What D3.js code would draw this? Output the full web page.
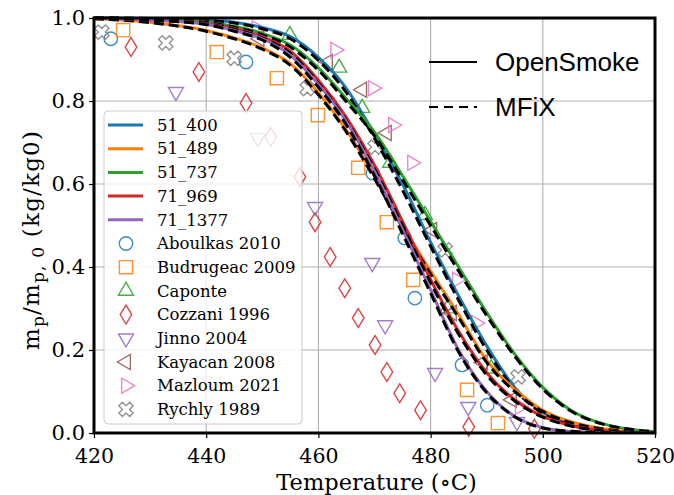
<!DOCTYPE html>
<html>
<head>
<meta charset="utf-8">
<script src="https://cdn.jsdelivr.net/npm/d3@7"></script>
<style>
  html, body { margin: 0; padding: 0; background: #fff; }
  svg { display: block; }
  .tick text { font-family: "DejaVu Serif", serif; }
</style>
</head>
<body>
<svg id="chart" width="674" height="495"></svg>
<script>
// Temperature grid shared by all simulated curves (°C)
const temps = [420, 430, 440, 445, 450, 455, 460, 465, 470, 475, 480, 485, 490, 495, 500, 505, 510, 515, 520];

// OpenSmoke mass fraction curves
const os_51_400  = [1.0, 0.999, 0.995, 0.99, 0.977, 0.955, 0.905, 0.83, 0.72, 0.60, 0.46, 0.33, 0.21, 0.11, 0.05, 0.02, 0.007, 0.002, 0.0];
const os_51_489  = [0.998, 0.99, 0.97, 0.952, 0.928, 0.89, 0.82, 0.73, 0.62, 0.50, 0.39, 0.285, 0.175, 0.105, 0.055, 0.027, 0.012, 0.004, 0.001];
const os_51_737  = [1.0, 0.998, 0.99, 0.98, 0.963, 0.935, 0.88, 0.805, 0.725, 0.62, 0.51, 0.40, 0.29, 0.19, 0.11, 0.055, 0.025, 0.01, 0.003];
const os_71_969  = [1.0, 0.996, 0.987, 0.975, 0.955, 0.92, 0.85, 0.76, 0.645, 0.51, 0.37, 0.245, 0.145, 0.08, 0.04, 0.018, 0.007, 0.002, 0.0];
const os_71_1377 = [1.0, 0.995, 0.985, 0.97, 0.95, 0.91, 0.84, 0.75, 0.63, 0.49, 0.345, 0.20, 0.10, 0.04, 0.013, 0.004, 0.001, 0.0, 0.0];

// MFiX mass fraction curves
const mf_51_400  = [1.0, 0.999, 0.994, 0.988, 0.974, 0.95, 0.898, 0.82, 0.71, 0.585, 0.45, 0.32, 0.20, 0.105, 0.047, 0.019, 0.006, 0.002, 0.0];
const mf_51_489  = [0.998, 0.989, 0.968, 0.95, 0.925, 0.886, 0.815, 0.725, 0.613, 0.495, 0.383, 0.278, 0.17, 0.10, 0.052, 0.025, 0.011, 0.004, 0.001];
const mf_51_737  = [1.0, 0.998, 0.989, 0.978, 0.96, 0.93, 0.874, 0.798, 0.716, 0.61, 0.50, 0.39, 0.283, 0.185, 0.106, 0.053, 0.024, 0.01, 0.003];
const mf_71_969  = [1.0, 0.996, 0.986, 0.973, 0.952, 0.915, 0.843, 0.752, 0.636, 0.50, 0.362, 0.238, 0.14, 0.077, 0.038, 0.017, 0.006, 0.002, 0.0];
const mf_71_1377 = [1.0, 0.995, 0.984, 0.968, 0.947, 0.905, 0.833, 0.742, 0.62, 0.48, 0.337, 0.195, 0.097, 0.039, 0.012, 0.004, 0.001, 0.0, 0.0];

const caseNames  = ["51_400", "51_489", "51_737", "71_969", "71_1377"];
const caseColors = ["#1f77b4", "#ff7f0e", "#2ca02c", "#d62728", "#9467bd"];

// Experimental data: temperature (°C) and normalized mass
const aboulkasT = [423.0, 447.1, 469.7, 475.4, 477.2, 485.6, 490.1];
const aboulkasM = [0.95, 0.894, 0.626, 0.47, 0.325, 0.164, 0.067];
const budrugeacT = [425.2, 441.9, 452.6, 459.9, 467.1, 472.2, 476.9, 486.5, 492.0];
const budrugeacM = [0.971, 0.918, 0.855, 0.766, 0.639, 0.508, 0.369, 0.104, 0.024];
const caponteT = [454.9, 463.7, 467.8, 472.8, 479.0, 483.0, 490.8];
const caponteM = [0.959, 0.88, 0.783, 0.651, 0.525, 0.30, 0.155];
const cozzaniT = [426.6, 438.7, 447.1, 451.5, 456.7, 459.4, 462.1, 464.7, 467.1, 470.1, 472.2, 474.5, 478.2, 486.8, 498.5];
const cozzaniM = [0.93, 0.87, 0.795, 0.713, 0.617, 0.508, 0.424, 0.349, 0.277, 0.212, 0.147, 0.096, 0.055, 0.015, 0.01];
const jinnoT = [434.6, 449.2, 459.4, 469.6, 471.9, 480.8, 486.7, 495.4];
const jinnoM = [0.822, 0.711, 0.545, 0.41, 0.26, 0.145, 0.063, 0.027];
const kayacanT = [449.5, 461.7, 467.8, 472.2, 480.3, 483.8, 489.3, 494.5];
const kayacanM = [0.95, 0.894, 0.827, 0.723, 0.489, 0.289, 0.17, 0.08];
const mazloumT = [449.0, 463.0, 469.7, 473.3, 476.7, 484.7, 488.1, 495.9];
const mazloumM = [0.975, 0.923, 0.831, 0.742, 0.651, 0.369, 0.265, 0.063];
const rychlyT = [421.4, 432.8, 445.0, 458.0, 470.1, 482.6, 495.6];
const rychlyM = [0.966, 0.94, 0.903, 0.83, 0.689, 0.441, 0.135];

const xTicks = [420, 440, 460, 480, 500, 520];
const yTicks = [0.0, 0.2, 0.4, 0.6, 0.8, 1.0];

// ---- layout ----
const svg = d3.select("#chart");
const L = 94, R = 655, T = 18, B = 433;
const x = d3.scaleLinear().domain([420, 520]).range([L, R]);
const y = d3.scaleLinear().domain([0, 1]).range([B, T]);

// marker shapes (outlined, unfilled)
function markerPath(kind) {
  const p = d3.path();
  const poly = pts => { pts.forEach((q, i) => i ? p.lineTo(q[0], q[1]) : p.moveTo(q[0], q[1])); p.closePath(); };
  if (kind === "o") { p.arc(0, 0, 6.7, 0, 2 * Math.PI); }
  else if (kind === "s") { const h = 6.6; poly([[-h,-h],[h,-h],[h,h],[-h,h]]); }
  else if (kind === "^") { const r = 8.7; poly([[0,-r],[r*0.866,r*0.5],[-r*0.866,r*0.5]]); }
  else if (kind === "v") { const r = 8.7; poly([[0,r],[r*0.866,-r*0.5],[-r*0.866,-r*0.5]]); }
  else if (kind === "<") { const r = 8.7; poly([[-r,0],[r*0.5,-r*0.866],[r*0.5,r*0.866]]); }
  else if (kind === ">") { const r = 8.7; poly([[r,0],[-r*0.5,-r*0.866],[-r*0.5,r*0.866]]); }
  else if (kind === "d") { poly([[0,-9.4],[5.8,0],[0,9.4],[-5.8,0]]); }
  else if (kind === "X") {
    const a = 7.6, w = 2.5;
    const base = [[-w,-a],[w,-a],[w,-w],[a,-w],[a,w],[w,w],[w,a],[-w,a],[-w,w],[-a,w],[-a,-w],[-w,-w]];
    const c = Math.SQRT1_2;
    poly(base.map(([u, v]) => [c*(u - v), c*(u + v)]));
  }
  return p.toString();
}

const datasets = [
  { name: "Aboulkas 2010",  t: aboulkasT,  m: aboulkasM,  kind: "o", color: "#1f77b4" },
  { name: "Budrugeac 2009", t: budrugeacT, m: budrugeacM, kind: "s", color: "#ff7f0e" },
  { name: "Caponte",        t: caponteT,   m: caponteM,   kind: "^", color: "#2ca02c" },
  { name: "Cozzani 1996",   t: cozzaniT,   m: cozzaniM,   kind: "d", color: "#d62728" },
  { name: "Jinno 2004",     t: jinnoT,     m: jinnoM,     kind: "v", color: "#9467bd" },
  { name: "Kayacan 2008",   t: kayacanT,   m: kayacanM,   kind: "<", color: "#8c564b" },
  { name: "Mazloum 2021",   t: mazloumT,   m: mazloumM,   kind: ">", color: "#e377c2" },
  { name: "Rychly 1989",    t: rychlyT,    m: rychlyM,    kind: "X", color: "#7f7f7f" }
];

const osCurves = [os_51_400, os_51_489, os_51_737, os_71_969, os_71_1377];
const mfCurves = [mf_51_400, mf_51_489, mf_51_737, mf_71_969, mf_71_1377];

// grid
const grid = svg.append("g").attr("stroke", "#b0b0b0").attr("stroke-width", 1.1);
xTicks.forEach(t => grid.append("line").attr("x1", x(t)).attr("x2", x(t)).attr("y1", T).attr("y2", B));
yTicks.forEach(t => grid.append("line").attr("x1", L).attr("x2", R).attr("y1", y(t)).attr("y2", y(t)));

svg.append("defs").append("clipPath").attr("id", "plotclip")
  .append("rect").attr("x", L).attr("y", T - 10).attr("width", R - L).attr("height", B - T + 10);

// experimental markers
const pts = svg.append("g");
datasets.forEach(ds => {
  pts.append("g").selectAll("path").data(ds.t.map((t, i) => [t, ds.m[i]])).join("path")
    .attr("d", markerPath(ds.kind))
    .attr("transform", d => `translate(${x(d[0])},${y(d[1])})`)
    .attr("fill", "none").attr("stroke", ds.color).attr("stroke-width", 1.4).attr("opacity", 0.85);
});

// model curves: coloured solid (OpenSmoke) with black dashed (MFiX) on top
const line = d3.line().x((d, i) => x(temps[i])).y(d => y(d)).curve(d3.curveMonotoneX);
const curves = svg.append("g").attr("clip-path", "url(#plotclip)");
osCurves.forEach((c, k) => {
  curves.append("path").attr("d", line(c)).attr("fill", "none")
    .attr("stroke", caseColors[k]).attr("stroke-width", 3);
  curves.append("path").attr("d", line(mfCurves[k])).attr("fill", "none")
    .attr("stroke", "#000").attr("stroke-width", 3).attr("stroke-dasharray", "10,5");
});

// axes
const xAxis = svg.append("g").attr("transform", `translate(0,${B})`)
  .call(d3.axisBottom(x).tickValues(xTicks).tickFormat(d3.format("d")).tickSize(5).tickPadding(10));
const yAxis = svg.append("g").attr("transform", `translate(${L},0)`)
  .call(d3.axisLeft(y).tickValues(yTicks).tickFormat(d3.format(".1f")).tickSize(5).tickPadding(4));
[xAxis, yAxis].forEach(a => {
  a.select(".domain").remove();
  a.selectAll(".tick line").attr("stroke", "#000").attr("stroke-width", 1.2);
  a.selectAll(".tick text").attr("font-size", 21).attr("fill", "#000");
});
xAxis.selectAll(".tick text").attr("dy", "0.72em").attr("font-size", 20.5);

// frame
svg.append("rect").attr("x", L).attr("y", T).attr("width", R - L).attr("height", B - T)
  .attr("fill", "none").attr("stroke", "#000").attr("stroke-width", 3);

// axis titles
svg.append("text").attr("x", (L + R) / 2 + 2).attr("y", 490).attr("text-anchor", "middle")
  .attr("font-family", "DejaVu Serif, serif").attr("font-size", 22.5).text("Temperature (∘C)");

const yl = svg.append("text").attr("transform", `translate(39,240) rotate(-90)`)
  .attr("text-anchor", "middle").attr("font-family", "DejaVu Serif, serif").attr("font-size", 23)
  .attr("letter-spacing", 1.2);
yl.append("tspan").text("m");
yl.append("tspan").attr("font-size", 17).attr("dy", 5).text("p");
yl.append("tspan").attr("dy", -5).text("/m");
yl.append("tspan").attr("font-size", 17).attr("dy", 5).text("p, 0");
yl.append("tspan").attr("dy", -5).text(" (kg/kg0)");

// legend box
const lg = svg.append("g");
lg.append("rect").attr("x", 104).attr("y", 111).attr("width", 198).attr("height", 313).attr("rx", 4)
  .attr("fill", "#fff").attr("fill-opacity", 0.8).attr("stroke", "#cccccc").attr("stroke-width", 1);
const rowY0 = 125, rowDy = 23.7;
caseNames.forEach((n, k) => {
  const yy = rowY0 + k * rowDy;
  lg.append("line").attr("x1", 108).attr("x2", 143).attr("y1", yy).attr("y2", yy)
    .attr("stroke", caseColors[k]).attr("stroke-width", 3);
  lg.append("text").attr("x", 157).attr("y", yy).attr("dy", "0.35em")
    .attr("font-family", "DejaVu Serif, serif").attr("font-size", 16.5).text(n);
});
datasets.forEach((ds, k) => {
  const yy = rowY0 + (k + 5) * rowDy;
  lg.append("path").attr("d", markerPath(ds.kind)).attr("transform", `translate(126,${yy})`)
    .attr("fill", "none").attr("stroke", ds.color).attr("stroke-width", 1.4).attr("opacity", 0.85);
  lg.append("text").attr("x", 157).attr("y", yy).attr("dy", "0.35em")
    .attr("font-family", "DejaVu Serif, serif").attr("font-size", 16.5).text(ds.name);
});

// model legend (line styles)
const ml = svg.append("g");
ml.append("line").attr("x1", 429).attr("x2", 477).attr("y1", 62).attr("y2", 62)
  .attr("stroke", "#000").attr("stroke-width", 2.2);
ml.append("text").attr("x", 495).attr("y", 62).attr("dy", "0.35em")
  .attr("font-family", "Liberation Sans, Arial, sans-serif").attr("font-size", 26).text("OpenSmoke");
ml.append("line").attr("x1", 429).attr("x2", 477).attr("y1", 107).attr("y2", 107)
  .attr("stroke", "#000").attr("stroke-width", 2.2).attr("stroke-dasharray", "9,6");
ml.append("text").attr("x", 495).attr("y", 107).attr("dy", "0.35em")
  .attr("font-family", "Liberation Sans, Arial, sans-serif").attr("font-size", 26).text("MFiX");
</script>
</body>
</html>
